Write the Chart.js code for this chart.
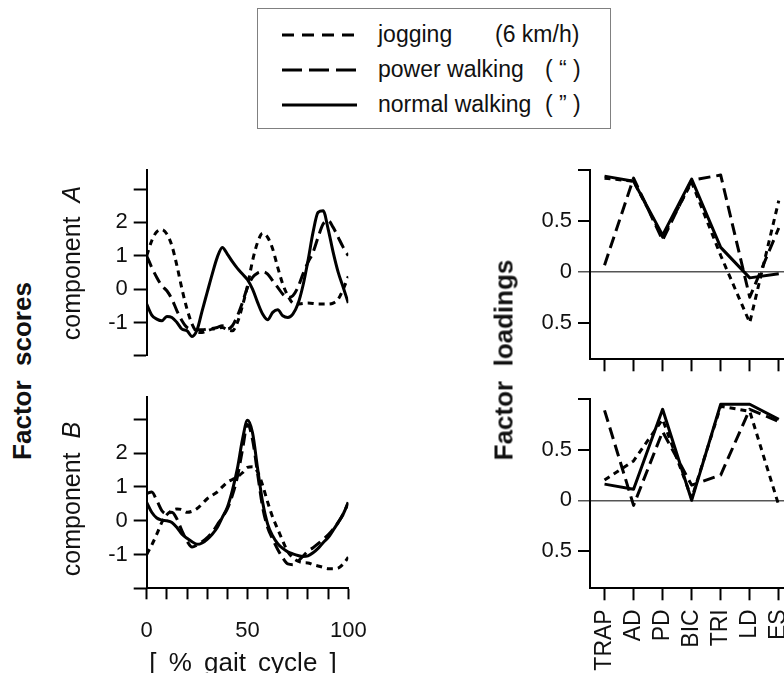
<!DOCTYPE html>
<html>
<head>
<meta charset="utf-8">
<script src="https://cdn.jsdelivr.net/npm/chart.js@4.4.0/dist/chart.umd.min.js"></script>
<style>
  html, body { margin:0; padding:0; width:784px; height:673px; overflow:hidden; background:#fff; }
  body { position:relative; font-family:'Liberation Sans', Arial, sans-serif; color:#111; }
  canvas { position:absolute; }
  .txt { position:absolute; white-space:nowrap; }
  .rot { position:absolute; white-space:nowrap; transform:translate(-50%,-50%) rotate(-90deg); }
  #legend { position:absolute; left:257px; top:8px; width:354px; height:121px; border:1.5px solid #808080; box-sizing:border-box; }
</style>
</head>
<body>

<div id="legend"></div>
<svg style="position:absolute;left:0;top:0" width="784" height="140">
  <line x1="282" y1="35" x2="354" y2="35" stroke="#000" stroke-width="3" stroke-dasharray="12 8"/>
  <line x1="282" y1="70" x2="356" y2="70" stroke="#000" stroke-width="3" stroke-dasharray="20 7"/>
  <line x1="282" y1="105" x2="357" y2="105" stroke="#000" stroke-width="3"/>
</svg>
<div class="txt" style="left:378px;top:21px;font-size:23px">jogging</div>
<div class="txt" style="left:495px;top:21px;font-size:23px">(6 km/h)</div>
<div class="txt" style="left:378px;top:56px;font-size:23px">power walking</div>
<div class="txt" style="left:545px;top:56px;font-size:23px">( “ )</div>
<div class="txt" style="left:378px;top:91px;font-size:23px">normal walking</div>
<div class="txt" style="left:545px;top:91px;font-size:23px">( ” )</div>

<canvas id="cA" width="350" height="225" style="left:40px;top:150px"></canvas>
<canvas id="cB" width="350" height="303" style="left:40px;top:370px"></canvas>
<canvas id="lA" width="340" height="240" style="left:470px;top:150px"></canvas>
<canvas id="lB" width="354" height="293" style="left:470px;top:380px"></canvas>

<div class="rot" style="left:22px;top:371px;font-size:26px;font-weight:bold">Factor&nbsp; scores</div>
<div class="rot" style="left:71px;top:263px;font-size:25px">component&nbsp; <i>A</i></div>
<div class="rot" style="left:71px;top:499px;font-size:25px">component&nbsp; <i>B</i></div>
<div class="rot" style="left:504px;top:360px;font-size:26px;font-weight:bold">Factor&nbsp; loadings</div>
<div class="txt" style="left:243px;top:662px;font-size:26px;word-spacing:5px;transform:translate(-50%,-50%)">[ % gait cycle ]</div>

<script>
// ---------- Data ----------
const GAIT = [0,2.5,5,7.5,10,12.5,15,17.5,20,22.5,25,27.5,30,32.5,35,37.5,40,42.5,45,47.5,50,
              52.5,55,57.5,60,62.5,65,67.5,70,72.5,75,77.5,80,82.5,85,87.5,90,92.5,95,97.5,100];

// component A factor scores
const jogA    = [1.0,1.45,1.72,1.78,1.65,1.3,0.7,0.0,-0.6,-1.05,-1.28,-1.3,-1.25,-1.2,-1.18,-1.15,-1.22,-1.25,-1.0,-0.5,0.1,
                 0.85,1.4,1.67,1.55,1.2,0.65,0.15,-0.2,-0.42,-0.45,-0.43,-0.42,-0.43,-0.45,-0.45,-0.45,-0.42,-0.3,0.0,0.38];
const powerA  = [1.0,0.65,0.35,0.1,-0.05,-0.3,-0.65,-0.95,-1.15,-1.2,-1.22,-1.22,-1.2,-1.18,-1.15,-1.1,-1.2,-1.1,-0.8,-0.4,0.05,
                 0.35,0.48,0.52,0.45,0.25,0.05,-0.15,-0.25,-0.2,0.05,0.45,0.8,1.1,1.55,1.95,2.05,1.85,1.55,1.25,1.0];
const normalA = [-0.45,-0.78,-0.9,-0.95,-0.82,-0.85,-1.0,-1.2,-1.25,-1.42,-1.22,-0.65,-0.1,0.45,0.95,1.25,1.05,0.82,0.62,0.45,0.28,
                 0.0,-0.4,-0.75,-0.92,-0.7,-0.62,-0.8,-0.85,-0.75,-0.45,0.1,0.85,1.7,2.3,2.35,1.8,1.1,0.5,0.05,-0.42];

// component B factor scores
const jogB    = [-1.0,-0.72,-0.4,-0.05,0.18,0.3,0.35,0.33,0.25,0.28,0.36,0.5,0.65,0.75,0.85,1.0,1.14,1.22,1.3,1.42,1.58,
                 1.6,1.45,1.05,0.55,0.1,-0.25,-0.6,-0.92,-1.1,-1.2,-1.24,-1.25,-1.3,-1.34,-1.38,-1.42,-1.42,-1.4,-1.28,-1.08];
const powerB  = [0.8,0.85,0.6,0.3,0.2,0.25,0.05,-0.3,-0.6,-0.78,-0.72,-0.62,-0.5,-0.35,-0.12,0.1,0.35,0.75,1.3,2.1,2.85,
                 2.4,1.4,0.4,-0.2,-0.55,-0.85,-1.1,-1.28,-1.3,-1.2,-1.05,-0.9,-0.8,-0.68,-0.55,-0.42,-0.25,-0.05,0.2,0.54];
const normalB = [0.54,0.25,0.08,0.02,0.0,-0.05,-0.2,-0.4,-0.52,-0.62,-0.7,-0.66,-0.55,-0.4,-0.2,0.1,0.4,0.9,1.55,2.4,2.97,
                 2.6,1.55,0.55,-0.1,-0.45,-0.68,-0.82,-0.92,-0.98,-1.03,-1.06,-1.04,-0.95,-0.82,-0.65,-0.5,-0.28,-0.05,0.2,0.54];

// factor loadings per muscle
const MUSCLES = ['TRAP','AD','PD','BIC','TRI','LD','ES'];
const jogLoadA    = [0.92, 0.89, 0.34, 0.88, 0.16, -0.5, 0.70];
const powerLoadA  = [0.065, 0.92, 0.31, 0.9, 0.95, -0.25, 0.43];
const normalLoadA = [0.94, 0.89, 0.36, 0.91, 0.24, -0.06, -0.02];
const jogLoadB    = [0.2, 0.39, 0.8, 0.02, 0.93, 0.88, -0.05];
const powerLoadB  = [0.89, -0.05, 0.68, 0.15, 0.25, 0.9, 0.78];
const normalLoadB = [0.16, 0.11, 0.9, 0.0, 0.95, 0.95, 0.8];

// ticks
const SCORE_TICKS = [-2,-1,0,1,2,3];
const SCORE_LABELS = [-1,0,1,2];
const GAIT_TICKS = [0,10,20,30,40,50,60,70,80,90,100];
const GAIT_LABELS = [0,50,100];
const LOAD_TICKS = [1,0.5,0,-0.5];
const LOAD_LABELS = ['', '0.5', '0', '0.5'];

// ---------- Chart.js defaults ----------
Chart.defaults.font.family = "'Liberation Sans', Arial, sans-serif";
Chart.defaults.color = '#111';
Chart.defaults.animation = false;
Chart.defaults.plugins.legend.display = false;
Chart.defaults.plugins.tooltip.enabled = false;

const STYLES = {
  jog:    { borderDash:[6,5] },
  power:  { borderDash:[12,6] },
  normal: { borderDash:[] }
};

function lineSet(style, data){
  return Object.assign({ data, borderColor:'#000', borderWidth:3, pointRadius:0, fill:false,
    borderCapStyle:'butt', borderJoinStyle:'round' }, STYLES[style]);
}

function pts(ys){ return GAIT.map((x,i)=>({x, y: ys[i]})); }

// ---------- Factor score panels ----------
function scoreChart(id, jog, power, normal, yMax, showX, padTop){
  return new Chart(document.getElementById(id), {
    type:'line',
    data:{ datasets:[ lineSet('jog', pts(jog)), lineSet('power', pts(power)), lineSet('normal', pts(normal)) ] },
    options:{
      responsive:false,
      layout:{ padding:{ top:padTop, right:41.7, bottom: showX ? 0 : 16.7, left:0 } },
      elements:{ line:{ cubicInterpolationMode:'monotone' } },
      scales:{
        x:{
          type:'linear', min:0, max:100, display: showX,
          afterBuildTicks: s => { s.ticks = GAIT_TICKS.map(v=>({value:v})); },
          afterFit: s => { if (showX) s.height = 84.7; },
          border:{ display:true, color:'#000', width:2 },
          grid:{ drawOnChartArea:false, tickLength:11, tickColor:'#000', tickWidth:2 },
          ticks:{ padding:18, maxRotation:0, autoSkip:false, font:{ size:22 }, color:'#111',
                  callback: v => GAIT_LABELS.includes(v) ? String(v) : '' }
        },
        y:{
          type:'linear', min:-2, max:yMax,
          afterBuildTicks: s => { s.ticks = SCORE_TICKS.map(v=>({value:v})); },
          afterFit: s => { s.width = 106.7; },
          border:{ display:true, color:'#000', width:2 },
          grid:{ drawOnChartArea:false, tickLength:13, tickColor:'#000', tickWidth:2 },
          ticks:{ padding:6, font:{ size:22 }, color:'#111',
                  callback: v => SCORE_LABELS.includes(v) ? String(v) : '' }
        }
      }
    }
  });
}

scoreChart('cA', jogA, powerA, normalA, 3.57, false, 20);
scoreChart('cB', jogB, powerB, normalB, 3.67, true, 26.7);

// ---------- Factor loading panels ----------
function zeroOr(ctx, a, b){ return ctx.tick && ctx.tick.value === 0 ? a : b; }

function loadChart(id, jog, power, normal, yMin, showLabels, xHeight, padTop, padRight){
  return new Chart(document.getElementById(id), {
    type:'line',
    data:{ labels:MUSCLES, datasets:[ lineSet('jog', jog), lineSet('power', power), lineSet('normal', normal) ] },
    options:{
      responsive:false,
      layout:{ padding:{ top:padTop, right:padRight, bottom:0, left:0 } },
      elements:{ line:{ tension:0 } },
      scales:{
        x:{
          type:'category', offset:true,
          afterFit: s => { s.height = xHeight; },
          border:{ display:true, color:'#000', width:2 },
          grid:{ offset:false, drawOnChartArea:false, tickLength:12, tickColor:'#000', tickWidth:2 },
          ticks:{ display:showLabels, padding:9, minRotation:90, maxRotation:90, autoSkip:false,
                  font:{ size:23 }, color:'#111' }
        },
        y:{
          type:'linear', min:yMin, max:1,
          afterBuildTicks: s => { s.ticks = LOAD_TICKS.map(v=>({value:v})); },
          afterFit: s => { s.width = 120; },
          border:{ display:true, color:'#000', width:2 },
          grid:{
            drawOnChartArea:true, tickLength:12,
            color: ctx => zeroOr(ctx, '#555', 'rgba(0,0,0,0)'),
            lineWidth: ctx => zeroOr(ctx, 1.5, 2),
            tickColor: ctx => zeroOr(ctx, '#555', '#000'),
            tickWidth: ctx => zeroOr(ctx, 1.5, 2)
          },
          ticks:{ padding:6, font:{ size:22 }, color:'#111',
                  callback: (v, i) => LOAD_LABELS[i] }
        }
      }
    }
  });
}

loadChart('lA', jogLoadA, powerLoadA, normalLoadA, -0.86, false, 30.7, 20, 16.7);
loadChart('lB', jogLoadB, powerLoadB, normalLoadB, -0.87, true, 84.7, 19, 30.7);
</script>
</body>
</html>
